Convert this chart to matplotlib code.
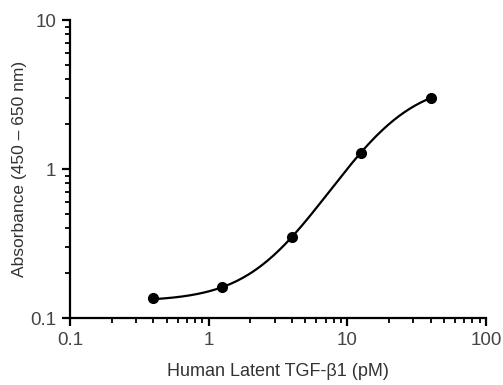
import numpy as np
import matplotlib
matplotlib.use("Agg")
import matplotlib.pyplot as plt
from matplotlib.ticker import LogLocator, FixedLocator, FixedFormatter, NullFormatter

plt.rcParams["font.family"] = ["Liberation Sans", "DejaVu Sans"]

# standard curve points
conc_pm = [0.4, 1.25, 4.0, 12.5, 40.0]
absorbance = [0.136, 0.162, 0.35, 1.28, 3.0]

x_ticks = [0.1, 1, 10, 100]
x_tick_labels = ["0.1", "1", "10", "100"]
y_ticks = [0.1, 1, 10]
y_tick_labels = ["0.1", "1", "10"]

x_label = "Human Latent TGF-\u03b21 (pM)"
y_label = "Absorbance (450 \u2013 650 nm)"


def four_pl(x, bottom, top, ec50, hill):
    return top + (bottom - top) / (1 + (x / ec50) ** hill)


def fit_four_pl(x, y):
    # grid over hill / ec50, bottom and top solved by linear least squares
    x = np.asarray(x)
    y = np.asarray(y)
    best = None
    for hill in np.linspace(0.5, 3.0, 126):
        for log_c in np.linspace(0.0, 2.5, 126):
            g = 1.0 / (1 + (x / 10 ** log_c) ** hill)
            m = np.column_stack([g, 1 - g])
            coef, *_ = np.linalg.lstsq(m, y, rcond=None)
            err = np.sum((np.log(m @ coef) - np.log(y)) ** 2) if np.all(m @ coef > 0) else np.inf
            if best is None or err < best[0]:
                best = (err, coef[0], coef[1], 10 ** log_c, hill)
    return best[1:]


params = fit_four_pl(conc_pm, absorbance)
xs = np.logspace(np.log10(conc_pm[0]), np.log10(conc_pm[-1]), 200)

fig = plt.figure(figsize=(5.03, 3.85), dpi=100)
ax = fig.add_axes([0.139, 0.174, 0.827, 0.774])

ax.plot(xs, four_pl(xs, *params), color="black", lw=1.6)
ax.plot(conc_pm, absorbance, "o", color="black", ms=7)

ax.set_xscale("log")
ax.set_yscale("log")
ax.set_xlim(0.1, 100)
ax.set_ylim(0.1, 10)

ax.xaxis.set_major_locator(FixedLocator(x_ticks))
ax.xaxis.set_major_formatter(FixedFormatter(x_tick_labels))
ax.yaxis.set_major_locator(FixedLocator(y_ticks))
ax.yaxis.set_major_formatter(FixedFormatter(y_tick_labels))
ax.xaxis.set_minor_locator(LogLocator(base=10, subs=np.arange(2, 10)))
ax.yaxis.set_minor_locator(LogLocator(base=10, subs=np.arange(2, 10)))
ax.xaxis.set_minor_formatter(NullFormatter())
ax.yaxis.set_minor_formatter(NullFormatter())

for side in ["top", "right"]:
    ax.spines[side].set_visible(False)
for side in ["left", "bottom"]:
    ax.spines[side].set_linewidth(1.6)

ax.tick_params(which="major", length=6, width=1.6, labelsize=13.5, labelcolor="#444444", pad=4)
ax.tick_params(which="minor", length=3.5, width=1.3)

ax.set_xlabel(x_label, fontsize=13, color="#333333", labelpad=10)
ax.set_ylabel(y_label, fontsize=12.5, color="#333333", labelpad=2)

fig.savefig("out.png", dpi=100)
